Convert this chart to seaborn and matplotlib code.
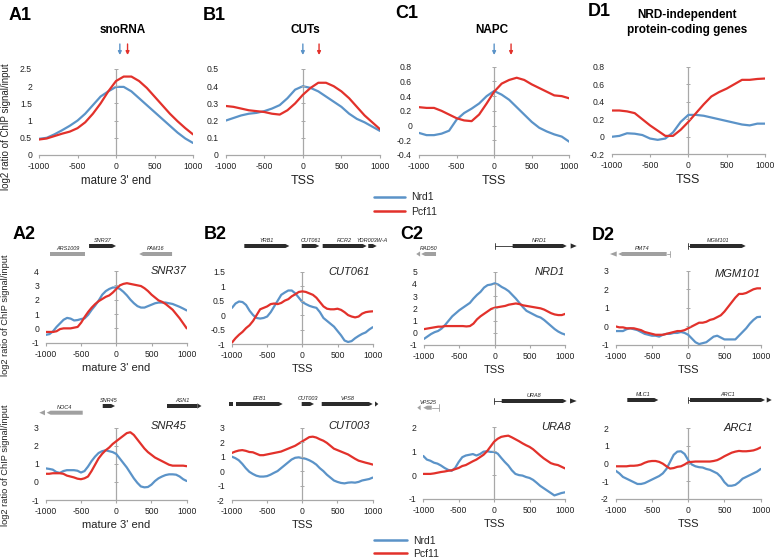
import numpy as np
import pandas as pd
import matplotlib
matplotlib.use('Agg')
import matplotlib.pyplot as plt
from matplotlib.lines import Line2D
from matplotlib.patches import Polygon
import seaborn as sns

W, H = 775, 560
BLUE = '#5b93c8'
RED = '#e2312b'
AXIS = '#a8a8a8'
TXT = '#222222'
GENE_DARK = '#2b2b2b'
GENE_GREY = '#a0a0a0'
PAL = {'Nrd1': BLUE, 'Pcf11': RED}

# x grids (distance in bp)
pos21 = list(range(-1000, 1001, 100))
pos41 = list(range(-1000, 1001, 50))

# ---- row 1: metagene profiles (21 points) ----
snorna_nrd1 = [0.47, 0.50, 0.60, 0.72, 0.85, 1.00, 1.20, 1.45, 1.70, 1.85, 1.98,
               1.98, 1.85, 1.65, 1.45, 1.25, 1.05, 0.85, 0.65, 0.48, 0.35]
snorna_pcf11 = [0.45, 0.48, 0.55, 0.62, 0.68, 0.78, 0.95, 1.20, 1.50, 1.85, 2.15,
                2.28, 2.28, 2.15, 1.95, 1.70, 1.45, 1.20, 0.98, 0.78, 0.60]
cuts_nrd1 = [0.20, 0.215, 0.23, 0.24, 0.245, 0.255, 0.27, 0.29, 0.33, 0.38, 0.40,
             0.39, 0.37, 0.34, 0.31, 0.28, 0.24, 0.21, 0.19, 0.165, 0.14]
cuts_pcf11 = [0.285, 0.28, 0.27, 0.26, 0.255, 0.25, 0.24, 0.235, 0.26, 0.30, 0.35,
              0.39, 0.42, 0.42, 0.40, 0.37, 0.33, 0.28, 0.23, 0.19, 0.15]
napc_nrd1 = [-0.10, -0.13, -0.13, -0.11, -0.07, 0.08, 0.17, 0.23, 0.30, 0.40, 0.47,
             0.42, 0.35, 0.25, 0.15, 0.05, -0.03, -0.08, -0.12, -0.15, -0.22]
napc_pcf11 = [0.25, 0.24, 0.24, 0.20, 0.15, 0.10, 0.07, 0.06, 0.15, 0.30, 0.46,
              0.57, 0.62, 0.65, 0.62, 0.56, 0.51, 0.46, 0.41, 0.40, 0.37]
indep_nrd1 = [0.0, 0.01, 0.04, 0.035, 0.02, -0.02, -0.035, -0.02, 0.05, 0.17, 0.25,
              0.25, 0.24, 0.22, 0.20, 0.18, 0.16, 0.14, 0.13, 0.15, 0.15]
indep_pcf11 = [0.30, 0.30, 0.29, 0.27, 0.20, 0.13, 0.07, 0.01, 0.01, 0.08, 0.17,
               0.27, 0.37, 0.46, 0.51, 0.55, 0.60, 0.65, 0.65, 0.66, 0.665]

# ---- rows 2-3: single genes (41 points) ----
snr37_nrd1 = [-0.45, -0.40, -0.20, 0.10, 0.35, 0.60, 0.73, 0.68, 0.55, 0.58, 0.65,
              0.70, 0.95, 1.30, 1.60, 1.95, 2.35, 2.60, 2.75, 2.85, 2.85,
              2.75, 2.55, 2.30, 2.00, 1.75, 1.55, 1.45, 1.45, 1.55, 1.65,
              1.75, 1.80, 1.80, 1.80, 1.75, 1.70, 1.60, 1.50, 1.38, 1.25]
snr37_pcf11 = [-0.25, -0.25, -0.25, -0.20, -0.05, 0.0, 0.0, 0.0, 0.05, 0.10, 0.40,
               0.80, 1.15, 1.45, 1.70, 1.90, 2.05, 2.20, 2.30, 2.50, 2.75,
               3.00, 3.10, 3.15, 3.10, 3.05, 3.00, 2.95, 2.80, 2.60, 2.35,
               2.15, 1.95, 1.85, 1.70, 1.50, 1.30, 1.00, 0.70, 0.35, 0.0]
cut061_nrd1 = [0.25, 0.40, 0.47, 0.45, 0.35, 0.15, 0.0, -0.10, -0.12, -0.10, -0.05,
               0.10, 0.30, 0.50, 0.70, 0.78, 0.85, 0.85, 0.75, 0.60, 0.45,
               0.38, 0.32, 0.28, 0.25, 0.10, -0.10, -0.20, -0.30, -0.40, -0.55,
               -0.70, -0.88, -0.93, -0.90, -0.80, -0.72, -0.65, -0.60, -0.50, -0.42]
cut061_pcf11 = [-0.95, -0.80, -0.68, -0.58, -0.45, -0.35, -0.20, 0.0, 0.20, 0.25, 0.30,
                0.38, 0.40, 0.38, 0.42, 0.50, 0.55, 0.65, 0.72, 0.80, 0.82,
                0.80, 0.75, 0.70, 0.60, 0.45, 0.30, 0.22, 0.20, 0.20, 0.22,
                0.18, 0.10, 0.0, -0.05, -0.08, -0.05, 0.05, 0.10, 0.12, 0.13]
nrd1_nrd1 = [-0.50, -0.30, -0.10, 0.05, 0.15, 0.35, 0.65, 1.00, 1.35, 1.60, 1.85,
             2.05, 2.25, 2.45, 2.80, 3.10, 3.35, 3.70, 3.90, 3.95, 4.05,
             3.95, 3.75, 3.60, 3.40, 3.10, 2.80, 2.45, 2.10, 1.80, 1.65,
             1.50, 1.35, 1.25, 1.05, 0.80, 0.55, 0.30, 0.10, -0.05, -0.15]
nrd1_pcf11 = [0.30, 0.35, 0.40, 0.45, 0.50, 0.50, 0.55, 0.55, 0.55, 0.55, 0.55,
              0.55, 0.52, 0.55, 0.75, 1.10, 1.35, 1.55, 1.75, 1.95, 2.05,
              2.10, 2.15, 2.20, 2.30, 2.35, 2.40, 2.35, 2.25, 2.20, 2.15,
              2.10, 2.05, 2.00, 1.90, 1.75, 1.60, 1.50, 1.45, 1.45, 1.55]
mgm101_nrd1 = [-0.25, -0.25, -0.25, -0.15, -0.10, -0.15, -0.20, -0.30, -0.40, -0.45, -0.50,
               -0.50, -0.55, -0.45, -0.40, -0.40, -0.35, -0.35, -0.30, -0.35, -0.45,
               -0.65, -0.85, -0.95, -0.90, -0.85, -0.70, -0.55, -0.50, -0.60, -0.70,
               -0.70, -0.70, -0.70, -0.50, -0.30, -0.10, 0.15, 0.35, 0.50, 0.52]
mgm101_pcf11 = [0.0, -0.05, -0.05, -0.10, -0.10, -0.10, -0.15, -0.20, -0.30, -0.35, -0.40,
                -0.45, -0.45, -0.45, -0.40, -0.35, -0.30, -0.25, -0.25, -0.20, -0.10,
                0.0, 0.10, 0.20, 0.20, 0.25, 0.35, 0.40, 0.50, 0.60, 0.80,
                1.05, 1.30, 1.55, 1.75, 1.75, 1.80, 1.90, 2.00, 2.05, 2.05]
snr45_nrd1 = [0.75, 0.72, 0.68, 0.55, 0.50, 0.60, 0.65, 0.65, 0.65, 0.62, 0.52,
              0.60, 0.85, 1.15, 1.40, 1.60, 1.70, 1.75, 1.70, 1.65, 1.55,
              1.30, 1.05, 0.80, 0.50, 0.20, -0.05, -0.25, -0.30, -0.28, -0.15,
              0.05, 0.20, 0.30, 0.38, 0.42, 0.42, 0.40, 0.30, 0.15, 0.05]
snr45_pcf11 = [0.45, 0.45, 0.48, 0.48, 0.48, 0.45, 0.35, 0.30, 0.25, 0.18, 0.15,
               0.20, 0.30, 0.60, 0.95, 1.30, 1.55, 1.75, 1.90, 2.10, 2.25,
               2.40, 2.55, 2.70, 2.75, 2.60, 2.35, 2.10, 1.85, 1.65, 1.50,
               1.35, 1.25, 1.15, 1.05, 0.95, 0.90, 0.90, 0.90, 0.90, 0.87]
cut003_nrd1 = [1.00, 0.90, 0.75, 0.50, 0.20, -0.05, -0.20, -0.32, -0.38, -0.38, -0.35,
               -0.25, -0.12, 0.0, 0.20, 0.40, 0.60, 0.80, 0.92, 0.95, 0.90,
               0.85, 0.75, 0.62, 0.45, 0.20, 0.0, -0.25, -0.45, -0.65, -0.75,
               -0.82, -0.85, -0.80, -0.78, -0.80, -0.75, -0.65, -0.60, -0.55, -0.45]
cut003_pcf11 = [1.25, 1.35, 1.42, 1.45, 1.40, 1.32, 1.30, 1.20, 1.10, 1.10, 1.15,
                1.20, 1.25, 1.30, 1.35, 1.45, 1.55, 1.65, 1.75, 1.90, 2.05,
                2.20, 2.35, 2.38, 2.32, 2.20, 2.10, 1.95, 1.75, 1.55, 1.45,
                1.35, 1.25, 1.15, 1.00, 0.85, 0.72, 0.65, 0.58, 0.52, 0.45]
ura8_nrd1 = [0.80, 0.65, 0.60, 0.52, 0.48, 0.40, 0.30, 0.22, 0.18, 0.30, 0.55,
             0.75, 0.82, 0.85, 0.88, 0.82, 0.88, 0.98, 1.00, 0.97, 0.97,
             0.90, 0.72, 0.55, 0.40, 0.20, 0.05, 0.0, -0.02, -0.08, -0.12,
             -0.20, -0.32, -0.45, -0.55, -0.65, -0.75, -0.85, -0.80, -0.75, -0.72]
ura8_pcf11 = [0.05, 0.05, 0.05, 0.07, 0.10, 0.13, 0.15, 0.18, 0.20, 0.25, 0.30,
              0.38, 0.42, 0.50, 0.58, 0.65, 0.75, 0.85, 1.00, 1.20, 1.40,
              1.52, 1.60, 1.63, 1.65, 1.58, 1.50, 1.42, 1.33, 1.25, 1.18,
              1.08, 0.95, 0.82, 0.70, 0.60, 0.50, 0.45, 0.42, 0.35, 0.28]
arc1_nrd1 = [-0.40, -0.55, -0.75, -0.85, -0.95, -1.05, -1.15, -1.15, -1.10, -1.00, -0.90,
             -0.80, -0.70, -0.55, -0.30, 0.10, 0.50, 0.68, 0.70, 0.55, 0.20,
             -0.05, -0.15, -0.20, -0.22, -0.30, -0.35, -0.45, -0.55, -0.75, -1.05,
             -1.25, -1.25, -1.20, -1.05, -0.85, -0.75, -0.65, -0.55, -0.45, -0.30]
arc1_pcf11 = [-0.15, -0.15, -0.15, -0.15, -0.12, -0.12, -0.10, -0.05, 0.05, 0.12, 0.15,
              0.15, 0.10, 0.0, -0.15, -0.28, -0.25, -0.18, -0.15, -0.05, 0.08,
              0.10, 0.12, 0.12, 0.12, 0.12, 0.12, 0.15, 0.20, 0.30, 0.42,
              0.52, 0.62, 0.68, 0.72, 0.70, 0.70, 0.72, 0.75, 0.82, 0.92]

# peak arrows (bp) for row 1
peak_nrd1 = {'A1': 50, 'B1': 0, 'C1': 0}
peak_pcf11 = {'A1': 150, 'B1': 210, 'C1': 225}

# gene annotations: (name, start, end, strand, shade, track, tss_lead, extra_head)
genes_A2 = [('ARS1009', -943, -445, '.', 'g', 'low', None, None),
            ('SNR37', -388, -5, '+', 'k', 'top', None, None),
            ('PAM16', 325, 792, '-', 'g', 'low', None, None)]
genes_B2 = [('YRB1', -825, -185, '+', 'k', 'top', None, None),
            ('CUT061', -9, 241, '+', 'k', 'top', None, None),
            ('RCR2', 289, 914, '+', 'k', 'top', None, None),
            ('YDR003W-A', 937, 1057, '+', 'k', 'top', None, None)]
genes_C2 = [('RAD50', -1040, -830, '-', 'g', 'low', None, (-1110, -1055)),
            ('NRD1', 255, 1020, '+', 'k', 'top', 0, (1076, 1161))]
genes_D2 = [('PMT4', -964, -297, '-', 'g', 'low', -251, (-1079, -986)),
            ('MGM101', 25, 793, '+', 'k', 'top', 0, None)]
genes_A3 = [('NOC4', -986, -475, '-', 'g', 'low', None, (-1091, -1010)),
            ('SNR45', -191, -17, '+', 'k', 'top', None, None),
            ('ASN1', 725, 1142, '.', 'k', 'top', None, (1150, 1210))]
genes_B3 = [('', -1034, -977, '.', 'k', 'top', None, None),
            ('EFB1', -939, -277, '+', 'k', 'top', None, None),
            ('CUT003', -7, 167, '+', 'k', 'top', None, None),
            ('VPS8', 277, 1000, '+', 'k', 'top', None, (1033, 1080))]
genes_C3 = [('VPS25', -1000, -881, '-', 'g', 'low', -774, (-1085, -1037)),
            ('URA8', 107, 1024, '+', 'k', 'top', 0, (1071, 1165))]
genes_D3 = [('MLC1', -840, -412, '+', 'k', 'top', None, None),
            ('ARC1', 25, 1059, '+', 'k', 'top', 0, (1083, 1152))]

sns.set_theme(style='white')
plt.rcParams['font.family'] = ['Liberation Sans', 'DejaVu Sans']

fig = plt.figure(figsize=(W / 100, H / 100), dpi=100)


def add_ax(box):
    x0, x1, y0, y1 = box
    return fig.add_axes([x0 / W, 1 - y1 / H, (x1 - x0) / W, (y1 - y0) / H])


def yfrac(box, ypx):
    return (box[3] - ypx) / (box[3] - box[2])


def ftext(x, y, s, **kw):
    fig.text(x / W, 1 - y / H, s, **kw)


def panel(box, pos, nrd, pcf, ylim, step, xlabel, name=None, name_xy=None, xlsize=8):
    ax = add_ax(box)
    df = pd.DataFrame({'pos': pos, 'Nrd1': nrd, 'Pcf11': pcf})
    df = df.melt('pos', var_name='protein', value_name='val')
    sns.lineplot(data=df, x='pos', y='val', hue='protein', palette=PAL,
                 legend=False, ax=ax, linewidth=1.6)
    ax.set_xlim(-1000, 1000)
    ax.set_ylim(*ylim)
    yt = np.round(np.arange(ylim[0], ylim[1] + step / 2, step), 3)
    ax.set_yticks(yt)
    ax.set_yticklabels([f'{v:g}' for v in yt])
    ax.set_xticks([-1000, -500, 0, 500, 1000])
    ax.set_xticklabels(['-1000', '-500', '0', '500', '1000'])
    for s in ['left', 'right', 'top']:
        ax.spines[s].set_visible(False)
    ax.spines['bottom'].set_color(AXIS)
    ax.spines['bottom'].set_linewidth(0.9)
    ax.axvline(0, color=AXIS, lw=0.9, zorder=0)
    ax.plot([0] * len(yt), yt, marker='_', ms=2.2, mew=0.7, ls='none', color=AXIS)
    ax.tick_params(axis='y', length=0, pad=5, labelsize=6.2, labelcolor=TXT)
    ax.tick_params(axis='x', length=2, width=0.8, color=AXIS, pad=3,
                   labelsize=6.2, labelcolor=TXT, bottom=True)
    ax.set_xlabel(xlabel, fontsize=xlsize, labelpad=3, color=TXT)
    ax.set_ylabel('')
    if name:
        ax.text(name_xy[0], name_xy[1], name, transform=ax.transAxes, ha='right',
                va='center', fontsize=8, style='italic', color=TXT)
    return ax


def draw_genes(ax, box, genes, ytop, ylow):
    tr = ax.get_xaxis_transform()
    hpx = box[3] - box[2]
    hh = 2.0 / hpx
    L = 55
    for name, a, b, strand, shade, track, lead, extra in genes:
        col = GENE_DARK if shade == 'k' else GENE_GREY
        yc = yfrac(box, ytop if track == 'top' else ylow)
        if strand == '+':
            pts = [(a, yc - hh), (b - L, yc - hh), (b, yc), (b - L, yc + hh), (a, yc + hh)]
        elif strand == '-':
            pts = [(b, yc - hh), (a + L, yc - hh), (a, yc), (a + L, yc + hh), (b, yc + hh)]
        else:
            pts = [(a, yc - hh), (b, yc - hh), (b, yc + hh), (a, yc + hh)]
        ax.add_patch(Polygon(pts, closed=True, transform=tr, clip_on=False,
                             fc=col, ec='none'))
        if extra is not None:
            e0, e1 = extra
            if strand == '-':
                tri = [(e1, yc - hh * 1.3), (e0, yc), (e1, yc + hh * 1.3)]
            else:
                tri = [(e0, yc - hh * 1.3), (e1, yc), (e0, yc + hh * 1.3)]
            ax.add_patch(Polygon(tri, closed=True, transform=tr, clip_on=False,
                                 fc=col, ec='none'))
        if lead is not None:
            end = a if strand == '+' else b
            ax.plot([lead, end], [yc, yc], transform=tr, clip_on=False,
                    color=col, lw=0.6)
            ax.plot([lead, lead], [yc - hh * 1.7, yc + hh * 1.7], transform=tr,
                    clip_on=False, color=col, lw=0.6)
        if name:
            ax.text((a + b) / 2, yc + 5.5 / hpx, name, transform=tr, ha='center',
                    va='center', fontsize=4, style='italic', color=TXT)
    ax.set_xlim(-1000, 1000)


def peak_arrows(ax, box, key):
    tr = ax.get_xaxis_transform()
    for x, col in [(peak_nrd1[key], BLUE), (peak_pcf11[key], RED)]:
        ax.annotate('', xy=(x, yfrac(box, 55)), xytext=(x, yfrac(box, 44)),
                    xycoords=tr, textcoords=tr,
                    arrowprops=dict(arrowstyle='-|>', color=col, lw=1.0,
                                    mutation_scale=5, shrinkA=0, shrinkB=0))


# axes boxes in pixels: x0, x1, y_top, y_bottom
boxA1 = (39, 193, 69, 155)
boxB1 = (225.7, 380, 69, 155)
boxC1 = (419, 569.3, 66.7, 155)
boxD1 = (611.7, 765, 66.7, 154.3)
boxA2 = (46, 186.7, 271, 342.7)
boxB2 = (232, 372.7, 271.7, 344)
boxC2 = (424, 565.3, 271.7, 345)
boxD2 = (615.7, 760.7, 270.7, 345)
boxA3 = (45.7, 186.7, 427.7, 500)
boxB3 = (231.7, 372.7, 427.7, 500)
boxC3 = (423.3, 565, 427.3, 499)
boxD3 = (615.7, 760.7, 428.3, 499)

axA1 = panel(boxA1, pos21, snorna_nrd1, snorna_pcf11, (0, 2.5), 0.5, "mature 3' end", xlsize=8.3)
axB1 = panel(boxB1, pos21, cuts_nrd1, cuts_pcf11, (0, 0.5), 0.1, 'TSS', xlsize=9)
axC1 = panel(boxC1, pos21, napc_nrd1, napc_pcf11, (-0.4, 0.8), 0.2, 'TSS', xlsize=9)
axD1 = panel(boxD1, pos21, indep_nrd1, indep_pcf11, (-0.2, 0.8), 0.2, 'TSS', xlsize=9)
peak_arrows(axA1, boxA1, 'A1')
peak_arrows(axB1, boxB1, 'B1')
peak_arrows(axC1, boxC1, 'C1')

axA2 = panel(boxA2, pos41, snr37_nrd1, snr37_pcf11, (-1, 4), 1, "mature 3' end", 'SNR37', (1.0, 1.0))
axB2 = panel(boxB2, pos41, cut061_nrd1, cut061_pcf11, (-1, 1.5), 0.5, 'TSS', 'CUT061', (0.98, 1.0))
axC2 = panel(boxC2, pos41, nrd1_nrd1, nrd1_pcf11, (-1, 5), 1, 'TSS', 'NRD1', (1.0, 1.0))
axD2 = panel(boxD2, pos41, mgm101_nrd1, mgm101_pcf11, (-1, 3), 1, 'TSS', 'MGM101', (1.0, 0.95))
axA3 = panel(boxA3, pos41, snr45_nrd1, snr45_pcf11, (-1, 3), 1, "mature 3' end", 'SNR45', (1.0, 1.02))
axB3 = panel(boxB3, pos41, cut003_nrd1, cut003_pcf11, (-2, 3), 1, 'TSS', 'CUT003', (0.98, 1.03))
axC3 = panel(boxC3, pos41, ura8_nrd1, ura8_pcf11, (-1, 2), 1, 'TSS', 'URA8', (1.04, 1.01))
axD3 = panel(boxD3, pos41, arc1_nrd1, arc1_pcf11, (-2, 2), 1, 'TSS', 'ARC1', (0.95, 1.01))

draw_genes(axA2, boxA2, genes_A2, 246, 254)
draw_genes(axB2, boxB2, genes_B2, 246, 254)
draw_genes(axC2, boxC2, genes_C2, 246, 254)
draw_genes(axD2, boxD2, genes_D2, 246, 254)
draw_genes(axA3, boxA3, genes_A3, 406, 412.7)
draw_genes(axB3, boxB3, genes_B3, 404, 411)
draw_genes(axC3, boxC3, genes_C3, 401, 407.7)
draw_genes(axD3, boxD3, genes_D3, 400, 407)

# panel letters and titles
for lab, x, y in [('A1', 9, 15), ('B1', 203, 15), ('C1', 395, 13), ('D1', 588, 12),
                  ('A2', 12.7, 234), ('B2', 204, 234), ('C2', 400, 234), ('D2', 592, 235)]:
    ftext(x, y, lab, fontsize=13, fontweight='bold', ha='left', va='center', color='black')
for t, x, y in [('snoRNA', 123, 30), ('CUTs', 305, 30), ('NAPC', 492, 30),
                ('NRD-independent', 687, 15), ('protein-coding genes', 687, 30)]:
    ftext(x, y, t, fontsize=8.5, fontweight='bold', ha='center', va='center', color='black')

for y, fs in [(127, 7), (315, 6.7), (465, 6.7)]:
    ftext(6, y, 'log2 ratio of ChIP signal/input', fontsize=fs, rotation=90,
          ha='center', va='center', color=TXT)

handles = [Line2D([], [], color=BLUE, lw=1.8), Line2D([], [], color=RED, lw=1.8)]
fig.legend(handles, ['Nrd1', 'Pcf11'], loc='center left', bbox_to_anchor=(374 / W, 1 - 204.5 / H),
           frameon=False, fontsize=7.5, handlelength=3.0, handletextpad=0.6,
           labelspacing=0.45, borderpad=0, borderaxespad=0)
fig.legend(handles, ['Nrd1', 'Pcf11'], loc='center left', bbox_to_anchor=(374 / W, 1 - 547.5 / H),
           frameon=False, fontsize=7.5, handlelength=3.2, handletextpad=0.6,
           labelspacing=0.3, borderpad=0, borderaxespad=0)

fig.savefig('out.png', dpi=100)
